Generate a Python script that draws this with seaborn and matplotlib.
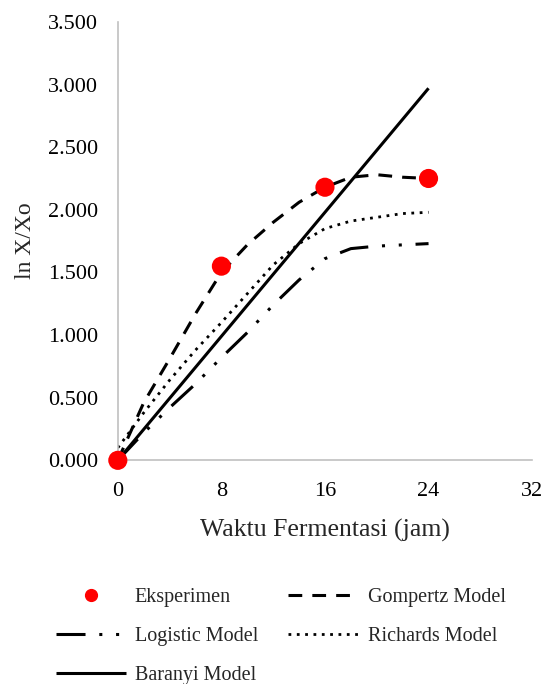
import matplotlib
matplotlib.use("Agg")
import matplotlib.pyplot as plt
import seaborn as sns
import pandas as pd
from matplotlib.lines import Line2D
from matplotlib.ticker import FormatStrFormatter

# Experimental data (ln X/Xo against fermentation time)
exp_hours = [0, 8, 16, 24]
exp_values = [0.0, 1.55, 2.18, 2.25]

# Model curves sampled every 2 hours
model_hours = [0, 2, 4, 6, 8, 10, 12, 14, 16, 18, 20, 22, 24]
gompertz = [0.0, 0.46, 0.81, 1.17, 1.50, 1.72, 1.90, 2.06, 2.18, 2.26, 2.28, 2.26, 2.25]
logistic = [0.0, 0.22, 0.42, 0.61, 0.82, 1.02, 1.24, 1.44, 1.61, 1.69, 1.71, 1.72, 1.73]
richards = [0.10, 0.38, 0.64, 0.88, 1.10, 1.33, 1.56, 1.73, 1.85, 1.91, 1.94, 1.97, 1.98]

baranyi_hours = [0, 8, 16, 24]
baranyi = [0.0, 0.99, 1.98, 2.97]

x_ticks = [0, 8, 16, 24, 32]
y_ticks = [0.0, 0.5, 1.0, 1.5, 2.0, 2.5, 3.0, 3.5]

sns.set_theme(style="white")
plt.rcParams["font.family"] = ["Liberation Serif", "DejaVu Serif"]

fig = plt.figure(figsize=(5.48, 6.84), dpi=100)
ax = fig.add_axes([0.215, 0.327, 0.756, 0.641])

styles = {
    "Gompertz Model": dict(linestyle=(0, (4.5, 3.3)), lw=2.2, dash_capstyle="butt"),
    "Logistic Model": dict(linestyle=(0, (9.5, 4.5, 1, 4.5, 1, 4.5)), lw=2.2,
                           dash_capstyle="butt"),
    "Richards Model": dict(linestyle=(0, (1, 2)), lw=2.0, dash_capstyle="butt"),
    "Baranyi Model": dict(linestyle="-", lw=2.2, solid_capstyle="butt"),
}

curves = {
    "Gompertz Model": (model_hours, gompertz),
    "Logistic Model": (model_hours, logistic),
    "Richards Model": (model_hours, richards),
    "Baranyi Model": (baranyi_hours, baranyi),
}

for name, (hx, hy) in curves.items():
    df = pd.DataFrame({"t": hx, "v": hy})
    sns.lineplot(data=df, x="t", y="v", ax=ax, color="black", **styles[name])

exp_df = pd.DataFrame({"t": exp_hours, "v": exp_values})
sns.scatterplot(data=exp_df, x="t", y="v", ax=ax, color="#ff0000", s=190,
                edgecolor="none", clip_on=False, zorder=5)

ax.set_xlim(0, 32)
ax.set_ylim(0, 3.5)
ax.set_xticks(x_ticks)
ax.set_yticks(y_ticks)
ax.yaxis.set_major_formatter(FormatStrFormatter("%.3f"))
ax.tick_params(axis="both", length=0, labelsize=16, colors="black")
ax.tick_params(axis="x", pad=15.3)
ax.tick_params(axis="y", pad=14)

for side in ["top", "right"]:
    ax.spines[side].set_visible(False)
for side in ["left", "bottom"]:
    ax.spines[side].set_color("#c0c0c0")
    ax.spines[side].set_linewidth(1.2)

ax.set_xlabel("Waktu Fermentasi (jam)", fontsize=18.5, labelpad=13.5)
ax.set_ylabel("ln X/Xo", fontsize=17, labelpad=9)

handles = [
    Line2D([], [], color="#ff0000", marker="o", linestyle="none", markersize=8.5),
    Line2D([], [], color="black", **styles["Logistic Model"]),
    Line2D([], [], color="black", **styles["Baranyi Model"]),
    Line2D([], [], color="black", **styles["Gompertz Model"]),
    Line2D([], [], color="black", **styles["Richards Model"]),
]
labels = ["Eksperimen", "Logistic Model", "Baranyi Model",
          "Gompertz Model", "Richards Model"]
fig.legend(handles, labels, ncol=2, loc="upper center",
           bbox_to_anchor=(0.512, 0.167), frameon=False, fontsize=14.5,
           handlelength=3.48, handletextpad=0.45, columnspacing=1.5,
           labelspacing=0.98)

fig.savefig("out.png", dpi=100)
